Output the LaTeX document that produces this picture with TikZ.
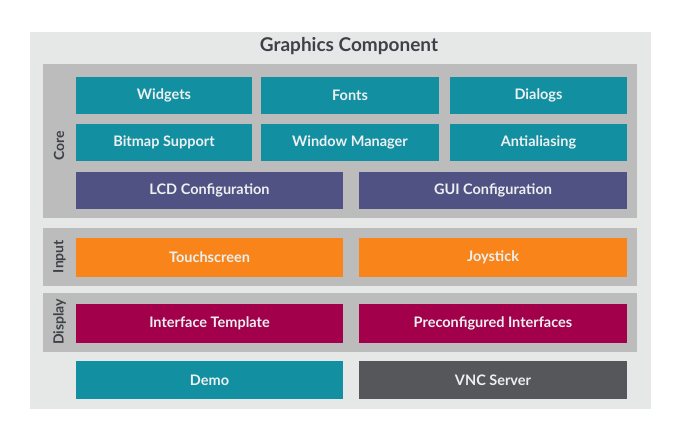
\documentclass[tikz,border=0pt]{standalone}
\usepackage{fontspec}
\setmainfont{Lato}
\definecolor{outerbg}{HTML}{E6E8E8}
\definecolor{panelbg}{HTML}{BCBCBC}
\definecolor{tealc}{HTML}{138FA2}
\definecolor{navyc}{HTML}{4F5283}
\definecolor{orangec}{HTML}{F9851A}
\definecolor{crimsonc}{HTML}{A2004B}
\definecolor{darkc}{HTML}{55575A}
\definecolor{titlec}{HTML}{3F4148}
\definecolor{labelc}{HTML}{ECF0F0}
\begin{document}
\begin{tikzpicture}[x=1pt,y=-1pt,
  area/.style={fill=#1,draw=none,inner sep=0pt,anchor=north west},
  blk/.style={fill=#1,draw=none,inner sep=0pt,text=labelc,
    font=\bfseries\fontsize{14.5}{14.5}\selectfont},
  side/.style={rotate=90,text=titlec,font=\bfseries\fontsize{14}{14}\selectfont,inner sep=0pt}]
\fill[white] (0,0) rectangle (697,439);
\useasboundingbox (0,0) rectangle (697,439);
% panels
\node[area=outerbg,minimum width=621pt,minimum height=377pt] (outer) at (30,32) {};
\node[area=panelbg,minimum width=594pt,minimum height=154pt] (core) at (43,64) {};
\node[area=panelbg,minimum width=594pt,minimum height=58pt] (input) at (43,228) {};
\node[area=panelbg,minimum width=594pt,minimum height=59pt] (display) at (43,293) {};
% title
\node[text=titlec,font=\bfseries\fontsize{19}{19}\selectfont,inner sep=0pt] (title) at (349,46) {Graphics Component};
% side labels
\node[side] (lcore) at (59,146) {Core};
\node[side] (linput) at (59.5,256.5) {Input};
\node[side] (ldisplay) at (59.5,322) {Display};
% core row 1
\node[blk=tealc,minimum width=176pt,minimum height=37pt] (widgets) at (164,95.5) {Widgets};
\node[blk=tealc,minimum width=178pt,minimum height=37pt] (fonts) at (350,95.5) {Fonts};
\node[blk=tealc,minimum width=177pt,minimum height=37pt] (dialogs) at (538.5,95.5) {Dialogs};
% core row 2
\node[blk=tealc,minimum width=176pt,minimum height=37pt] (bitmap) at (164,142.5) {Bitmap Support};
\node[blk=tealc,minimum width=178pt,minimum height=37pt] (window) at (350,142.5) {Window Manager};
\node[blk=tealc,minimum width=177pt,minimum height=37pt] (anti) at (538.5,142.5) {Antialiasing};
% core row 3
\node[blk=navyc,minimum width=267pt,minimum height=37pt] (lcd) at (209.5,190.5) {LCD Configuration};
\node[blk=navyc,minimum width=268pt,minimum height=37pt] (gui) at (493,190.5) {GUI Configuration};
% input
\node[blk=orangec,minimum width=267pt,minimum height=39pt] (touch) at (209.5,257.5) {Touchscreen};
\node[blk=orangec,minimum width=268pt,minimum height=39pt] (joy) at (493,257.5) {Joystick};
% display
\node[blk=crimsonc,minimum width=267pt,minimum height=39pt] (itempl) at (209.5,323.5) {Interface Template};
\node[blk=crimsonc,minimum width=268pt,minimum height=39pt] (preconf) at (493,323.5) {Preconfigured Interfaces};
% bottom
\node[blk=tealc,minimum width=267pt,minimum height=38pt] (demo) at (209.5,380) {Demo};
\node[blk=darkc,minimum width=268pt,minimum height=38pt] (vnc) at (493,380) {VNC Server};
\end{tikzpicture}
\end{document}
